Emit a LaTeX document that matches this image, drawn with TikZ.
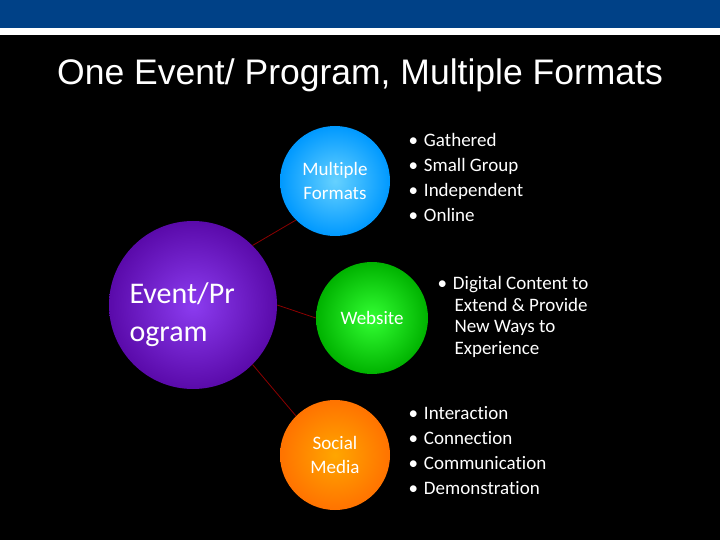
\documentclass[tikz,border=0pt]{standalone}
\usepackage{fontspec}
\setmainfont[Ligatures=NoCommon]{Carlito}
\newfontfamily\arialf{Liberation Sans}
\definecolor{navy}{RGB}{0,65,135}
\definecolor{purpin}{RGB}{140,60,240}
\definecolor{purpout}{RGB}{90,10,170}
\begin{document}
\begin{tikzpicture}[x=1pt,y=-1pt,
  txt/.style={text=white,font=\fontsize{19}{25}\selectfont,align=left},
  conn/.style={draw=red!55!black,line width=0.8pt},
  circ/.style={circle,inner sep=0pt,text=white,align=center,font=\fontsize{19}{24}\selectfont}]
\fill[black] (0,0) rectangle (720,540);
\useasboundingbox (0,0) rectangle (720,540);
\fill[navy] (0,0) rectangle (720,28);
\fill[white] (0,28) rectangle (720,35);
\node[text=white,font=\arialf\fontsize{35.5}{40}\selectfont] (title) at (360,75) {One Event/ Program, Multiple Formats};
\node[circ,minimum size=168pt,inner color=purpin,outer color=purpout] (ev) at (193,305) {};
\node[text=white,font=\fontsize{30}{38}\selectfont,align=left,anchor=west] (evt) at (126,315) {Event/Pr\\ogram};
\node[circ,minimum size=110pt,inner color=cyan!70!blue!60!white,outer color=cyan!60!blue] (mf) at (335,181) {Multiple\\Formats};
\node[circ,minimum size=112pt,inner color=green!80!white,outer color=green!70!black] (ws) at (372,318) {Website};
\node[circ,minimum size=110pt,inner color=orange!70!yellow,outer color=orange!90!red] (sm) at (335,455) {Social\\Media};
\draw[conn] (ev.45) -- (mf.225);
\draw[conn] (ev.0) -- (ws.180);
\draw[conn] (ev.-45) -- (sm.135);
\node[txt,anchor=north west] (l1) at (405,130) {\textbullet\hspace{6pt}Gathered\\\textbullet\hspace{6pt}Small Group\\\textbullet\hspace{6pt}Independent\\\textbullet\hspace{6pt}Online};
\node[txt,anchor=north west,font=\fontsize{19}{21.5}\selectfont] (l2) at (434,273) {\textbullet\hspace{6pt}Digital Content to\\\hspace*{17pt}Extend \& Provide\\\hspace*{17pt}New Ways to\\\hspace*{17pt}Experience};
\node[txt,anchor=north west] (l3) at (405,403) {\textbullet\hspace{6pt}Interaction\\\textbullet\hspace{6pt}Connection\\\textbullet\hspace{6pt}Communication\\\textbullet\hspace{6pt}Demonstration};
\end{tikzpicture}
\end{document}
